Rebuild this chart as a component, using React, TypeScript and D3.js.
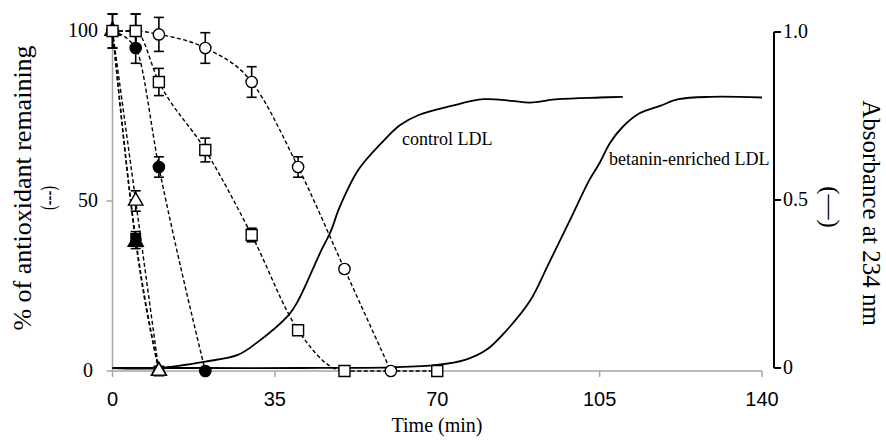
import * as d3 from 'd3';
import React, { ReactElement, useEffect, useRef } from 'react';

const W = 886;
const H = 440;

// antioxidant series (time in min, % remaining, error bar half-size)
const openCircleT = [0, 5, 10, 20, 30, 40, 50, 60];
const openCircleV = [100, 100, 99, 95, 85, 60, 30, 0];
const openCircleE = [5, 5, 5, 4.5, 4.5, 3, 1, 0];

const openSquareT = [0, 5, 10, 20, 30, 40, 50, 70];
const openSquareV = [100, 100, 85, 65, 40, 12, 0, 0];
const openSquareE = [5, 5, 4, 3.5, 2, 1, 0, 0];

const filledCircleT = [0, 5, 10, 20];
const filledCircleV = [100, 95, 60, 0];
const filledCircleE = [0, 4.5, 3, 0];

const openTriT = [0, 5, 10];
const openTriV = [100, 50, 0];
const openTriE = [0, 3, 0];

const filledSquareT = [0, 5, 10];
const filledSquareV = [100, 39, 0];
const filledSquareE = [0, 2, 0];

const filledTriT = [0, 5, 10];
const filledTriV = [100, 38, 0];
const filledTriE = [0, 2, 0];

// conjugated diene absorbance curves
const controlT = [0, 10, 20, 27, 31, 38, 40, 45, 47, 49, 53, 58, 62, 66, 73, 80, 86, 90, 96, 105, 110];
const controlA = [0, 0, 0.019, 0.039, 0.074, 0.158, 0.2, 0.35, 0.405, 0.48, 0.59, 0.67, 0.723, 0.753, 0.78, 0.8, 0.795, 0.79, 0.8, 0.805, 0.807];
const betaninT = [0, 20, 40, 60, 70, 76, 80.6, 85, 90, 94, 98.6, 102.8, 105, 107.2, 110, 113.6, 118, 122, 129, 140];
const betaninA = [0, 0, 0, 0.002, 0.009, 0.024, 0.054, 0.113, 0.2, 0.31, 0.44, 0.56, 0.61, 0.669, 0.718, 0.758, 0.78, 0.8, 0.807, 0.805];

const xTicks = [0, 35, 70, 105, 140];
const yLeftTicks = [0, 50, 100];
const yRightTicks = [0, 0.5, 1];
const yRightLabels = ['0', '0.5', '1.0'];

const SERIF = '"Liberation Serif", "Times New Roman", serif';
const SANS = '"Liberation Sans", Arial, sans-serif';
const GREY = '#a6a6a6';

const zip = (t: number[], v: number[], e: number[] = []) =>
  t.map((d, i) => ({ t: d, v: v[i], e: e[i] || 0 }));

const Chart = (): ReactElement => {
  const ref = useRef(null);

  useEffect(() => {
    const root = d3.select(ref.current);
    root.selectAll('*').remove();
    const svg = root.append('svg').attr('width', W).attr('height', H);

    const x = d3.scaleLinear().domain([0, 140]).range([112.5, 762]);
    const yL = d3.scaleLinear().domain([0, 100]).range([371, 31]);
    const yR = d3.scaleLinear().domain([0, 1]).range([368, 32]);

    // x axis
    svg.append('line').attr('x1', x(0)).attr('x2', x(140)).attr('y1', yL(0)).attr('y2', yL(0))
      .attr('stroke', GREY).attr('stroke-width', 1.5);
    xTicks.forEach((t) => {
      svg.append('line').attr('x1', x(t)).attr('x2', x(t)).attr('y1', yL(0)).attr('y2', yL(0) + 6)
        .attr('stroke', GREY).attr('stroke-width', 1.5);
      svg.append('text').attr('x', x(t)).attr('y', 406).attr('text-anchor', 'middle')
        .attr('font-family', SANS).attr('font-size', 20).text(t);
    });
    svg.append('text').attr('x', 437).attr('y', 432).attr('text-anchor', 'middle')
      .attr('font-family', SERIF).attr('font-size', 20).text('Time (min)');

    // left axis
    svg.append('line').attr('x1', x(0)).attr('x2', x(0)).attr('y1', yL(0)).attr('y2', yL(100))
      .attr('stroke', GREY).attr('stroke-width', 1.5);
    yLeftTicks.forEach((v) => {
      svg.append('line').attr('x1', x(0) - 6).attr('x2', x(0)).attr('y1', yL(v)).attr('y2', yL(v))
        .attr('stroke', GREY).attr('stroke-width', 1.5);
      svg.append('text').attr('x', v === 0 ? 93 : 98).attr('y', yL(v) + 6).attr('text-anchor', 'end')
        .attr('font-family', SERIF).attr('font-size', 20).text(v);
    });
    svg.append('text').attr('transform', 'translate(31,188) rotate(-90)').attr('text-anchor', 'middle')
      .attr('font-family', SERIF).attr('font-size', 26).text('% of antioxidant remaining');
    svg.append('text').attr('transform', 'translate(55,198) rotate(-90)').attr('text-anchor', 'middle')
      .attr('font-family', SERIF).attr('font-size', 20)
      .attr('textLength', 24).attr('lengthAdjust', 'spacingAndGlyphs').text('(---)');

    // right axis
    const rx = 774;
    svg.append('line').attr('x1', rx).attr('x2', rx).attr('y1', yR(0)).attr('y2', yR(1))
      .attr('stroke', '#000').attr('stroke-width', 2);
    yRightTicks.forEach((v, i) => {
      svg.append('line').attr('x1', rx).attr('x2', rx + 7).attr('y1', yR(v)).attr('y2', yR(v))
        .attr('stroke', '#000').attr('stroke-width', 2);
      svg.append('text').attr('x', rx + 9).attr('y', yR(v) + 6)
        .attr('font-family', SERIF).attr('font-size', 20).text(yRightLabels[i]);
    });
    svg.append('text').attr('transform', 'translate(863,213) rotate(90)').attr('text-anchor', 'middle')
      .attr('font-family', SERIF).attr('font-size', 25).text('Absorbance at 234 nm');
    svg.append('text').attr('transform', 'translate(822,207) rotate(90)').attr('text-anchor', 'middle')
      .attr('font-family', SERIF).attr('font-size', 25).text('(—)');

    // absorbance curves
    const absLine = d3.line<{ t: number; v: number }>()
      .x((d) => x(d.t)).y((d) => yR(d.v)).curve(d3.curveCatmullRom.alpha(0.5));
    [zip(controlT, controlA), zip(betaninT, betaninA)].forEach((s) => {
      svg.append('path').attr('d', absLine(s)).attr('fill', 'none')
        .attr('stroke', '#000').attr('stroke-width', 1.8);
    });
    svg.append('text').attr('x', 402).attr('y', 145)
      .attr('font-family', SERIF).attr('font-size', 18).text('control LDL');
    svg.append('text').attr('x', 609).attr('y', 165)
      .attr('font-family', SERIF).attr('font-size', 18).text('betanin-enriched LDL');

    // antioxidant series
    const series = [
      { d: zip(filledSquareT, filledSquareV, filledSquareE), sym: d3.symbolSquare, size: 90, fill: '#000' },
      { d: zip(filledTriT, filledTriV, filledTriE), sym: d3.symbolTriangle, size: 100, fill: '#000' },
      { d: zip(openTriT, openTriV, openTriE), sym: d3.symbolTriangle, size: 90, fill: '#fff' },
      { d: zip(filledCircleT, filledCircleV, filledCircleE), sym: d3.symbolCircle, size: 100, fill: '#000' },
      { d: zip(openCircleT, openCircleV, openCircleE), sym: d3.symbolCircle, size: 100, fill: '#fff' },
      { d: zip(openSquareT, openSquareV, openSquareE), sym: d3.symbolSquare, size: 121, fill: '#fff' },
    ];
    const dashLine = d3.line<{ t: number; v: number }>()
      .x((d) => x(d.t)).y((d) => yL(d.v)).curve(d3.curveMonotoneX);
    series.forEach((s) => {
      svg.append('path').attr('d', dashLine(s.d)).attr('fill', 'none')
        .attr('stroke', '#000').attr('stroke-width', 1.4).attr('stroke-dasharray', '4,2.5');
    });
    series.forEach((s) => {
      const g = svg.append('g');
      s.d.filter((p) => p.e > 0).forEach((p) => {
        const top = yL(p.v + p.e);
        const bot = yL(p.v - p.e);
        g.append('line').attr('x1', x(p.t)).attr('x2', x(p.t)).attr('y1', top).attr('y2', bot)
          .attr('stroke', '#000').attr('stroke-width', 1.6);
        [top, bot].forEach((yy) => {
          g.append('line').attr('x1', x(p.t) - 5).attr('x2', x(p.t) + 5).attr('y1', yy).attr('y2', yy)
            .attr('stroke', '#000').attr('stroke-width', 1.6);
        });
      });
      g.selectAll('path').data(s.d).enter().append('path')
        .attr('d', d3.symbol().type(s.sym).size(s.size)())
        .attr('transform', (p) => `translate(${x(p.t)},${yL(p.v)})`)
        .attr('fill', s.fill).attr('stroke', '#000').attr('stroke-width', 1.4);
    });

    return () => {
      root.selectAll('*').remove();
    };
  }, []);

  return <div ref={ref} style={{ position: 'absolute', left: 0, top: 0 }}></div>;
};

export default function App(): ReactElement {
  return <Chart />;
}
